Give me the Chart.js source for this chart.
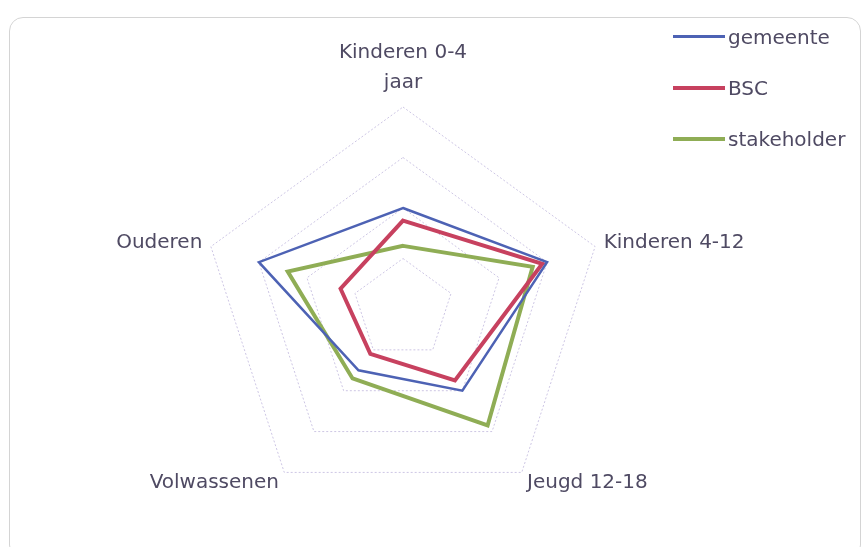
<!DOCTYPE html>
<html>
<head>
<meta charset="utf-8">
<script src="https://cdn.jsdelivr.net/npm/chart.js@4.4.0/dist/chart.umd.min.js"></script>
<style>
  html, body { margin: 0; padding: 0; background: #fff; }
  #wrap { position: relative; width: 866px; height: 547px; overflow: hidden; }
  #frame { position: absolute; left: 9px; top: 17px; width: 850px; height: 540px;
           border: 1px solid #d4d4d4; border-radius: 14px; }
  #legend { position: absolute; left: 673px; top: 11px; font-family: 'DejaVu Sans', sans-serif;
            font-size: 20px; color: #4f4a63; }
  .item { display: flex; align-items: center; height: 51px; }
  .swatch { width: 52px; margin-right: 3px; }
</style>
</head>
<body>
<div id="wrap">
  <div id="frame"></div>
  <canvas id="chart"></canvas>
  <div id="legend"></div>
</div>
<script>
// assen (met de klok mee vanaf boven)
const categories = [['Kinderen 0-4', 'jaar'], 'Kinderen 4-12', 'Jeugd 12-18', 'Volwassenen', 'Ouderen'];

// scores per groep
const gemeente = [2.0, 3.0, 2.0, 1.5, 3.0];
const bsc = [1.75, 2.9, 1.75, 1.1, 1.3];
const stakeholder = [1.25, 2.7, 2.85, 1.7, 2.4];

const seriesNames = ['gemeente', 'BSC', 'stakeholder'];
const seriesColors = ['#4d62b4', '#c7415f', '#8fad55'];
const seriesWidths = [2.5, 4, 4];

const scaleMax = 4;

const datasets = [gemeente, bsc, stakeholder].map((values, i) => ({
  label: seriesNames[i],
  data: values,
  borderColor: seriesColors[i],
  backgroundColor: seriesColors[i],
  borderWidth: seriesWidths[i],
  fill: false,
  pointRadius: 0,
  pointHoverRadius: 0,
  tension: 0,
}));

// regelhoogte per label bepaalt hoe ver de tekst van de hoekpunt staat
const labelLineHeights = [1.5, 0.1, 0.3, 0.3, 0.1];

const canvas = document.getElementById('chart');
canvas.width = 866;
canvas.height = 547;

new Chart(canvas.getContext('2d'), {
  type: 'radar',
  data: { labels: categories, datasets },
  options: {
    responsive: false,
    animation: false,
    layout: { padding: { left: 0, right: 56, top: 4, bottom: 1 } },
    plugins: {
      legend: { display: false },
      tooltip: { enabled: false },
    },
    scales: {
      r: {
        min: 0,
        max: scaleMax,
        ticks: { display: false, stepSize: 1 },
        angleLines: { display: false },
        grid: { color: '#cdc6e4', lineWidth: 1, circular: false },
        border: { dash: [2, 2] },
        pointLabels: {
          padding: 9,
          color: '#4f4a63',
          font: (ctx) => ({ family: 'DejaVu Sans', size: 20, lineHeight: labelLineHeights[ctx.index] }),
        },
      },
    },
  },
});

// legenda rechtsboven
const legend = document.getElementById('legend');
seriesNames.forEach((name, i) => {
  const item = document.createElement('div');
  item.className = 'item';
  const sw = document.createElement('div');
  sw.className = 'swatch';
  sw.style.height = seriesWidths[i] + 'px';
  sw.style.background = seriesColors[i];
  const txt = document.createElement('span');
  txt.textContent = name;
  item.appendChild(sw);
  item.appendChild(txt);
  legend.appendChild(item);
});
</script>
</body>
</html>
